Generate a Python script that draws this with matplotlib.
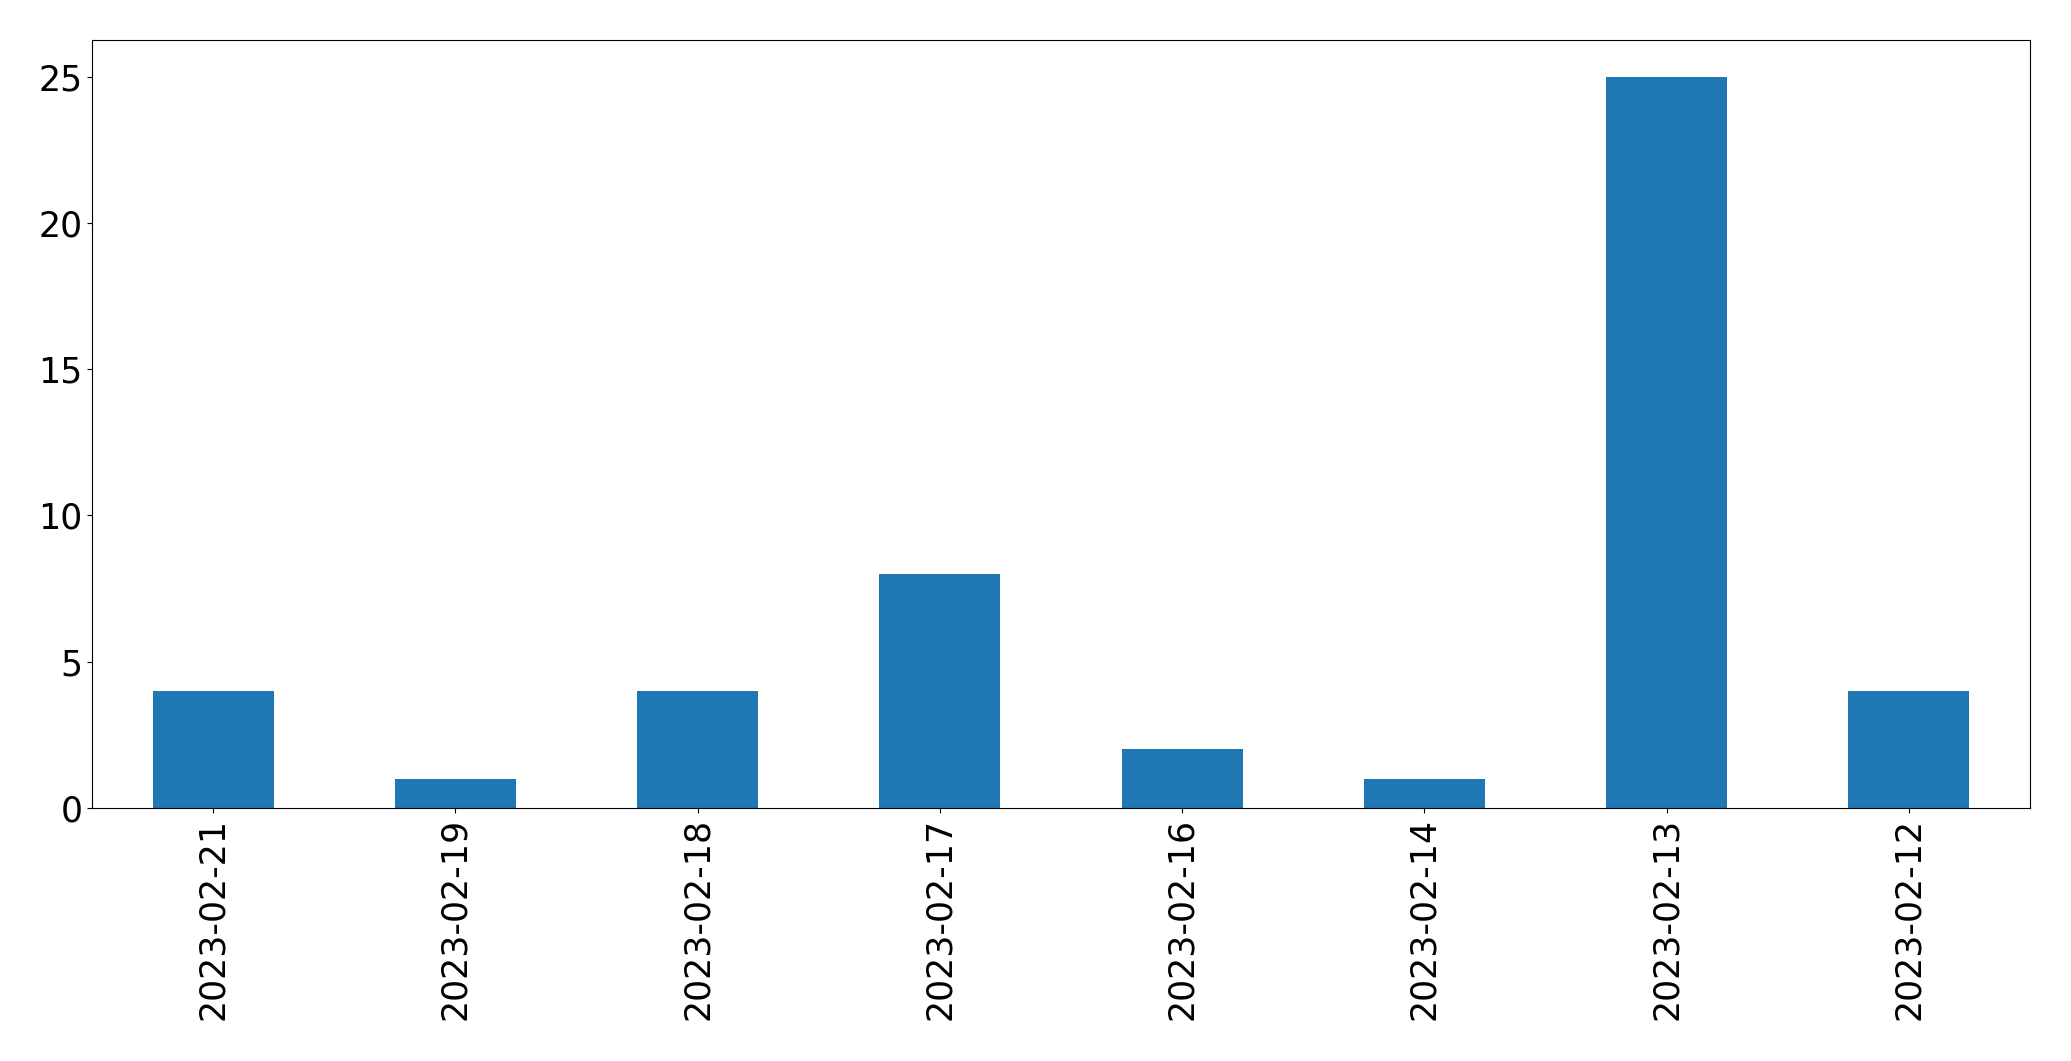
import pandas as pd
import matplotlib
matplotlib.use('Agg')
import matplotlib.pyplot as plt

dates = ['2023-02-21', '2023-02-19', '2023-02-18', '2023-02-17',
         '2023-02-16', '2023-02-14', '2023-02-13', '2023-02-12']
counts = [4, 1, 4, 8, 2, 1, 25, 4]

s = pd.Series(counts, index=dates)

fig = plt.figure(figsize=(20.71, 10.61), dpi=100)
ax = fig.add_subplot(111)
s.plot(kind='bar', ax=ax, color='#1f77b4')
ax.tick_params(labelsize=25)
plt.subplots_adjust(left=92 / 2071, right=2030 / 2071, top=1 - 40 / 1061, bottom=1 - 808 / 1061)
plt.savefig('out.png', dpi=100)
